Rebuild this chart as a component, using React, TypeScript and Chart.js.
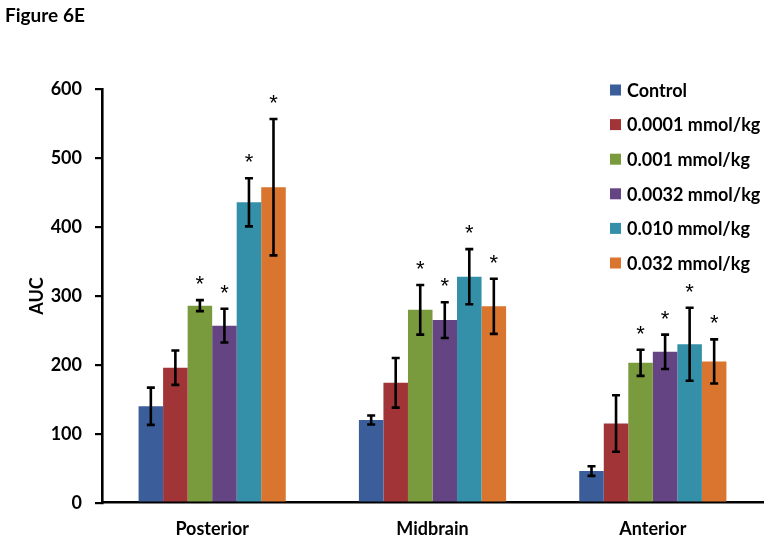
import React, { useEffect, useRef } from "react";
import { Chart, registerables } from "chart.js";

Chart.register(...registerables);

const categories = ["Posterior", "Midbrain", "Anterior"];
const seriesNames = [
  "Control",
  "0.0001 mmol/kg",
  "0.001 mmol/kg",
  "0.0032 mmol/kg",
  "0.010 mmol/kg",
  "0.032 mmol/kg",
];
const seriesColors = ["#3B5E9B", "#A13436", "#7A9A3E", "#654484", "#3390A8", "#D9752F"];

const controlValues = [140, 120, 46];
const dose0001Values = [196, 174, 115];
const dose001Values = [286, 280, 203];
const dose0032Values = [257, 265, 219];
const dose010Values = [436, 328, 230];
const dose032Values = [458, 285, 205];

const controlErrors = [27, 6.5, 7];
const dose0001Errors = [25, 36, 41];
const dose001Errors = [8, 36, 19];
const dose0032Errors = [24.5, 26, 25];
const dose010Errors = [35, 40, 53];
const dose032Errors = [99, 40, 32];

const controlSig = [false, false, false];
const dose0001Sig = [false, false, false];
const dose001Sig = [true, true, true];
const dose0032Sig = [true, true, true];
const dose010Sig = [true, true, true];
const dose032Sig = [true, true, true];

const yTicks = [0, 100, 200, 300, 400, 500, 600];

const allValues = [controlValues, dose0001Values, dose001Values, dose0032Values, dose010Values, dose032Values];
const allErrors = [controlErrors, dose0001Errors, dose001Errors, dose0032Errors, dose010Errors, dose032Errors];
const allSig = [controlSig, dose0001Sig, dose001Sig, dose0032Sig, dose010Sig, dose032Sig];

const FONT = "Lato, 'Open Sans', sans-serif";

const errorBarPlugin = {
  id: "errorBars",
  afterDatasetsDraw(chart: any) {
    const ctx = chart.ctx;
    const y = chart.scales.y;
    chart.data.datasets.forEach((_ds: any, di: number) => {
      const meta = chart.getDatasetMeta(di);
      meta.data.forEach((bar: any, i: number) => {
        const v = allValues[di][i];
        const e = allErrors[di][i];
        const x = bar.x;
        const yt = y.getPixelForValue(v + e);
        const yb = y.getPixelForValue(v - e);
        ctx.save();
        ctx.strokeStyle = "#000";
        ctx.lineWidth = 2.6;
        ctx.beginPath();
        ctx.moveTo(x, yt);
        ctx.lineTo(x, yb);
        ctx.moveTo(x - 4, yt);
        ctx.lineTo(x + 4, yt);
        ctx.moveTo(x - 4, yb);
        ctx.lineTo(x + 4, yb);
        ctx.stroke();
        if (allSig[di][i]) {
          ctx.fillStyle = "#000";
          ctx.font = `22px 'Liberation Sans', Arial, sans-serif`;
          ctx.textAlign = "center";
          ctx.textBaseline = "alphabetic";
          ctx.fillText("*", x, yt - 9);
        }
        ctx.restore();
      });
    });
  },
  afterDraw(chart: any) {
    const ctx = chart.ctx;
    ctx.save();
    ctx.font = `bold 18px ${FONT}`;
    ctx.textAlign = "left";
    ctx.textBaseline = "middle";
    seriesNames.forEach((name, i) => {
      const cy = 90 + i * 34.6;
      ctx.fillStyle = seriesColors[i];
      ctx.fillRect(610, cy - 5.5, 11, 11);
      ctx.fillStyle = "#000";
      ctx.fillText(name, 627, cy + 1);
    });
    ctx.restore();
  },
};

export default function App() {
  const ref = useRef<HTMLCanvasElement | null>(null);
  useEffect(() => {
    if (!ref.current) return;
    const chart = new Chart(ref.current, {
      type: "bar",
      data: {
        labels: categories,
        datasets: seriesNames.map((name, i) => ({
          label: name,
          data: allValues[i],
          backgroundColor: seriesColors[i],
          borderWidth: 0,
          barPercentage: 1.0,
          categoryPercentage: 0.668,
        })),
      },
      options: {
        animation: false,
        responsive: false,
        layout: { padding: { top: 89.3, right: 9, bottom: 0, left: 0 } },
        plugins: {
          legend: { display: false },
          tooltip: { enabled: false },
        },
        scales: {
          x: {
            grid: { display: false, drawTicks: false },
            border: { display: true, color: "#000", width: 2.6 },
            ticks: {
              color: "#000",
              font: { family: FONT, size: 18, weight: "bold" },
              padding: 16,
            },
            afterFit: (s: any) => {
              s.height = 41.3;
            },
          },
          y: {
            min: 0,
            max: 600,
            afterBuildTicks: (s: any) => {
              s.ticks = yTicks.map((v) => ({ value: v }));
            },
            grid: {
              display: true,
              drawOnChartArea: false,
              drawTicks: true,
              tickLength: 7,
              color: "#000",
              lineWidth: 2.2,
            },
            border: { display: true, color: "#000", width: 2.6 },
            ticks: {
              color: "#000",
              font: { family: FONT, size: 18, weight: "bold" },
              padding: 13,
            },
            title: {
              display: true,
              text: "AUC",
              color: "#000",
              font: { family: FONT, size: 18, weight: "bold" },
              padding: { top: 26, bottom: 0 },
            },
            afterFit: (s: any) => {
              s.width = 102;
            },
          },
        },
      },
      plugins: [errorBarPlugin],
    });
    return () => chart.destroy();
  }, []);
  return (
    <div style={{ position: "absolute", left: 0, top: 0, width: 772, height: 544, background: "#fff" }}>
      <div
        style={{
          position: "absolute",
          left: 5,
          top: 3,
          fontFamily: FONT,
          fontWeight: "bold",
          fontSize: 19,
          color: "#000",
        }}
      >
        Figure 6E
      </div>
      <canvas ref={ref} width={772} height={544} style={{ display: "block" }} />
    </div>
  );
}
